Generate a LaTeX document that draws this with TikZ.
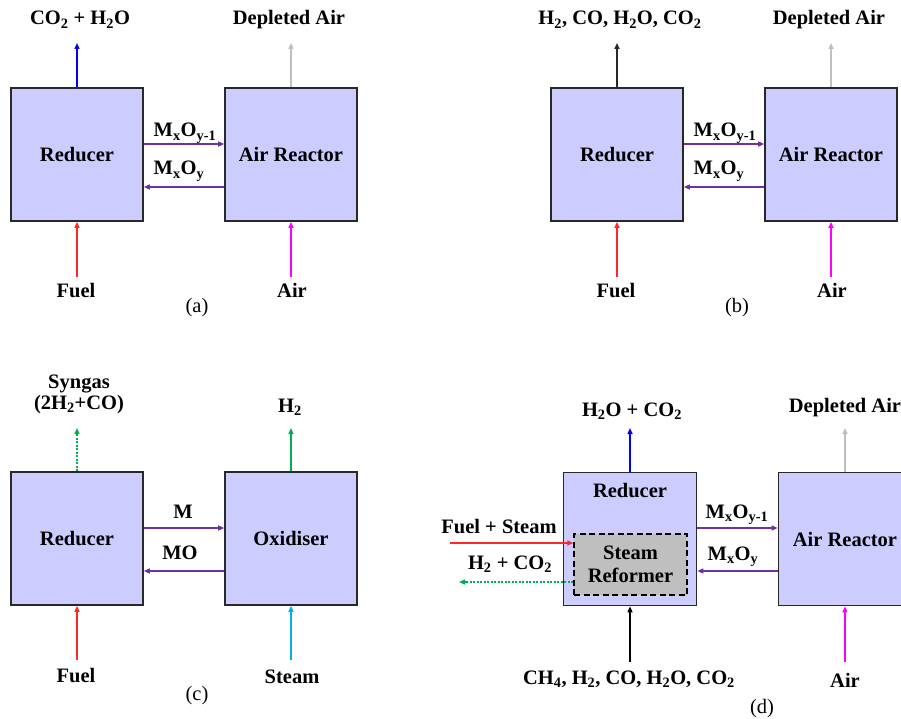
\documentclass[tikz,border=0pt]{standalone}
\usepackage{fontspec}
\setmainfont{Liberation Serif}
\usetikzlibrary{arrows.meta}
\definecolor{boxblue}{RGB}{204,204,255}
\definecolor{edgegray}{RGB}{40,40,40}
\definecolor{purp}{RGB}{112,48,160}
\definecolor{fuelred}{RGB}{255,40,40}
\definecolor{outblue}{RGB}{0,0,255}
\definecolor{depgray}{RGB}{191,191,191}
\definecolor{airmag}{RGB}{255,0,255}
\definecolor{syngreen}{RGB}{0,176,80}
\definecolor{steamcyan}{RGB}{0,176,240}
\definecolor{refgray}{RGB}{191,191,191}
\newcommand\lblfont{\fontsize{20.5}{21}\selectfont\bfseries}
\newcommand\capfont{\fontsize{20.5}{21}\selectfont}
\newcommand\sbs[1]{\textsubscript{#1}}
\begin{document}
\begin{tikzpicture}[x=1pt,y=-1pt,
  reactor/.style={draw=edgegray, line width=1.6pt, fill=boxblue, minimum width=132pt, minimum height=133pt, inner sep=0pt, font=\lblfont},
  reformer/.style={draw=black, line width=1.4pt, dash pattern=on 6pt off 3.5pt, fill=refgray, minimum width=113pt, minimum height=61pt, inner sep=0pt, align=center, font=\fontsize{20.5}{23.5}\selectfont\bfseries},
  lbl/.style={font=\lblfont, inner sep=0pt, anchor=base, align=center},
  captext/.style={font=\capfont, inner sep=0pt, anchor=base},
  flow/.style={line width=1.4pt, -{Triangle[length=6pt,width=5pt]}},
]
\useasboundingbox (0,0) rectangle (901,719);
\fill[white] (0,0) rectangle (901,719);

%% ---------- (a) ----------
\node[reactor] (redA) at (77,154.5) {Reducer};
\node[reactor] (airA) at (291,154.5) {Air Reactor};
\node[lbl] (topA1) at (80,25) {CO\sbs{2} + H\sbs{2}O};
\node[lbl] (topA2) at (289,25) {Depleted Air};
\node[lbl] (mA1) at (185,137) {M\sbs{x}O\sbs{y-1}};
\node[lbl] (mA2) at (179,175) {M\sbs{x}O\sbs{y}};
\node[lbl] (fuelA) at (76,297) {Fuel};
\node[lbl] (airinA) at (292,297) {Air};
\node[captext] (capA) at (197,312) {(a)};
\coordinate (tA1) at (77,43);
\coordinate (tA2) at (291,43);
\coordinate (bA1) at (77,277);
\coordinate (bA2) at (291,277);
\draw[flow, outblue] (redA.north) -- (tA1);
\draw[flow, depgray] (airA.north) -- (tA2);
\draw[flow, fuelred] (bA1) -- (redA.south);
\draw[flow, airmag] (bA2) -- (airA.south);
\draw[flow, purp] ([yshift=10.5pt]redA.east) -- ([yshift=10.5pt]airA.west);
\draw[flow, purp] ([yshift=-32.5pt]airA.west) -- ([yshift=-32.5pt]redA.east);

%% ---------- (b) ----------
\node[reactor] (redB) at (617,154.5) {Reducer};
\node[reactor] (airB) at (831,154.5) {Air Reactor};
\node[lbl] (topB1) at (620,25) {H\sbs{2}, CO, H\sbs{2}O, CO\sbs{2}};
\node[lbl] (topB2) at (829,25) {Depleted Air};
\node[lbl] (mB1) at (725,137) {M\sbs{x}O\sbs{y-1}};
\node[lbl] (mB2) at (719,175) {M\sbs{x}O\sbs{y}};
\node[lbl] (fuelB) at (616,297) {Fuel};
\node[lbl] (airinB) at (832,297) {Air};
\node[captext] (capB) at (737,312) {(b)};
\coordinate (tB1) at (617,43);
\coordinate (tB2) at (831,43);
\coordinate (bB1) at (617,277);
\coordinate (bB2) at (831,277);
\draw[flow, edgegray] (redB.north) -- (tB1);
\draw[flow, depgray] (airB.north) -- (tB2);
\draw[flow, fuelred] (bB1) -- (redB.south);
\draw[flow, airmag] (bB2) -- (airB.south);
\draw[flow, purp] ([yshift=10.5pt]redB.east) -- ([yshift=10.5pt]airB.west);
\draw[flow, purp] ([yshift=-32.5pt]airB.west) -- ([yshift=-32.5pt]redB.east);

%% ---------- (c) ----------
\node[reactor] (redC) at (77,538.5) {Reducer};
\node[reactor] (oxC) at (291,538.5) {Oxidiser};
\node[lbl, anchor=north] (topC1) at (79,375) {Syngas\\(2H\sbs{2}+CO)};
\node[lbl] (topC2) at (290,412) {H\sbs{2}};
\node[lbl] (mC1) at (183,518) {M};
\node[lbl] (mC2) at (180,559) {MO};
\node[lbl] (fuelC) at (76,682) {Fuel};
\node[lbl] (steamC) at (292,683) {Steam};
\node[captext] (capC) at (197,700) {(c)};
\coordinate (tC1) at (77,428);
\coordinate (tC2) at (291,428);
\coordinate (bC1) at (77,660);
\coordinate (bC2) at (291,660);
\draw[flow, syngreen, dash pattern=on 2pt off 1.5pt] (redC.north) -- (tC1);
\draw[flow, syngreen] (oxC.north) -- (tC2);
\draw[flow, fuelred] (bC1) -- (redC.south);
\draw[flow, steamcyan] (bC2) -- (oxC.south);
\draw[flow, purp] ([yshift=10.5pt]redC.east) -- ([yshift=10.5pt]oxC.west);
\draw[flow, purp] ([yshift=-32.5pt]oxC.west) -- ([yshift=-32.5pt]redC.east);

%% ---------- (d) ----------
\node[reactor, minimum width=133pt] (redD) at (630,539) {};
\node[reactor, minimum width=133pt] (airD) at (845,539) {Air Reactor};
\node[lbl] (redDlbl) at (630,497) {Reducer};
\node[reformer] (refD) at (630.5,564.5) {Steam\\Reformer};
\node[lbl] (topD1) at (632,416) {H\sbs{2}O + CO\sbs{2}};
\node[lbl] (topD2) at (845,412) {Depleted Air};
\node[lbl] (fsD) at (499,533) {Fuel + Steam};
\node[lbl] (hcD) at (510,569) {H\sbs{2} + CO\sbs{2}};
\node[lbl] (mD1) at (737,518) {M\sbs{x}O\sbs{y-1}};
\node[lbl] (mD2) at (733,560) {M\sbs{x}O\sbs{y}};
\node[lbl] (ch4D) at (629,684) {CH\sbs{4}, H\sbs{2}, CO, H\sbs{2}O, CO\sbs{2}};
\node[lbl] (airinD) at (845,687) {Air};
\node[captext] (capD) at (762,713) {(d)};
\coordinate (tD1) at (630,428);
\coordinate (tD2) at (845,428);
\coordinate (bD1) at (630,662);
\coordinate (bD2) at (845,662);
\coordinate (fsStart) at (450,543);
\coordinate (hcEnd) at (459,582);
\draw[flow, outblue] (redD.north) -- (tD1);
\draw[flow, depgray] (airD.north) -- (tD2);
\draw[flow, black] (bD1) -- (redD.south);
\draw[flow, airmag] (bD2) -- (airD.south);
\draw[flow, fuelred] (fsStart) -- ([yshift=21.5pt]refD.west);
\draw[flow, syngreen, dash pattern=on 2pt off 1.5pt] ([yshift=-17.5pt]refD.west) -- (hcEnd);
\draw[flow, purp] ([yshift=11pt]redD.east) -- ([yshift=11pt]airD.west);
\draw[flow, purp] ([yshift=-32pt]airD.west) -- ([yshift=-32pt]redD.east);
\end{tikzpicture}
\end{document}
